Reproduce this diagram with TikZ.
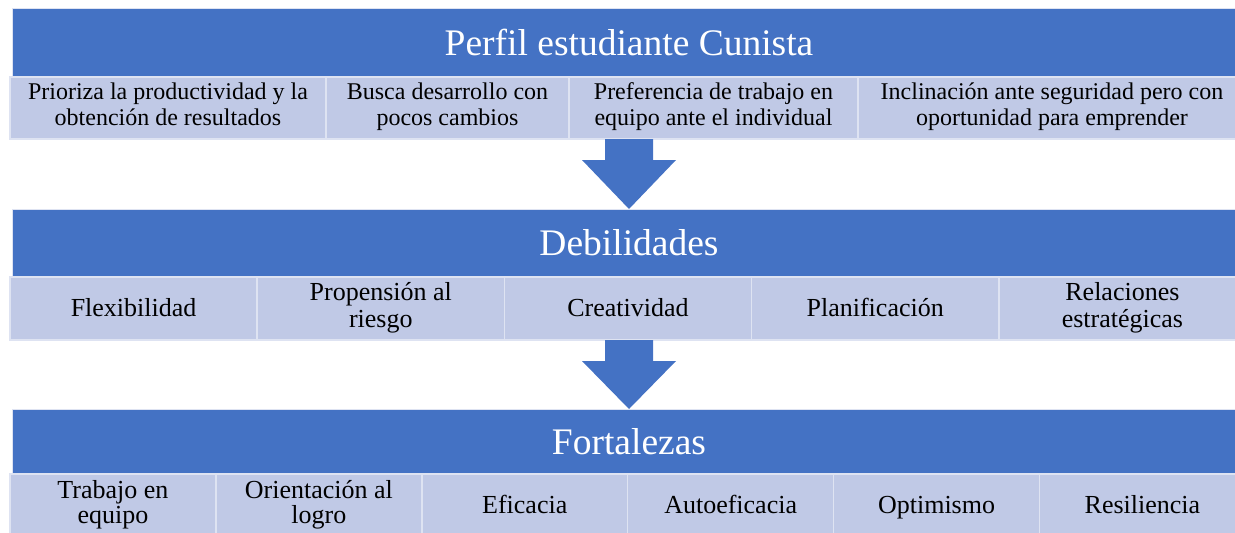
\documentclass[tikz,border=0pt]{standalone}
\usepackage{fontspec}
\setmainfont{Liberation Serif}
\usetikzlibrary{positioning,calc}

\definecolor{azul}{HTML}{4472C4}
\definecolor{celeste}{RGB}{192,201,230}
\definecolor{borde}{RGB}{222,227,242}

% puntal para centrar igual las celdas de una y dos lineas
\newcommand{\puntal}{\rule[-7pt]{0pt}{30pt}}
% flecha gruesa hacia abajo: #1 = base del tallo, #2 = punta
\newcommand{\flechaabajo}[2]{%
  \fill[azul] ($(#1)+(-24,0)$) -- ($(#1)+(24,0)$) -- ($(#1)+(24,21)$)
    -- ($(#1)+(47,21)$) -- (#2) -- ($(#1)+(-47,21)$) -- ($(#1)+(-24,21)$) -- cycle;}

\begin{document}
\begin{tikzpicture}[x=1pt,y=-1pt,
    titulo/.style={fill=azul, draw=borde, line width=0.6pt, text=white,
      font=\fontsize{37.5}{40}\selectfont, minimum width=1234pt,
      inner sep=0pt, outer sep=0pt, anchor=north west},
    celda/.style={fill=celeste, draw=borde, line width=1.5pt, align=center,
      inner sep=0pt, outer sep=0pt,
      execute at begin node=\puntal, execute at end node=\puntal},
    fila1/.style={celda, minimum height=62pt, font=\fontsize{24}{26}\selectfont},
    fila2/.style={celda, minimum height=63pt, minimum width=247.2pt, font=\fontsize{26}{26.5}\selectfont},
    fila3/.style={celda, minimum height=63pt, minimum width=205.9pt, font=\fontsize{26}{25.5}\selectfont}]
  \useasboundingbox (0,0) rectangle (1235,533);
  \clip (0,0) rectangle (1235,533);

  % perfil
  \node[titulo, minimum height=69pt] (perfil) at (12,8) {Perfil estudiante Cunista};
  \node[fila1, minimum width=316pt, anchor=north west] (p1) at (10,77)
    {Prioriza la productividad y la\\obtención de resultados};
  \node[fila1, minimum width=243pt, right=0pt of p1] (p2) {Busca desarrollo con\\pocos cambios};
  \node[fila1, minimum width=289pt, right=0pt of p2] (p3) {Preferencia de trabajo en\\equipo ante el individual};
  \node[fila1, minimum width=388pt, right=0pt of p3] (p4) {Inclinación ante seguridad pero con\\oportunidad para emprender};

  % debilidades
  \node[titulo, minimum height=68pt] (debil) at (12,209) {Debilidades};
  \node[fila2, anchor=north west] (d1) at (10,277) {Flexibilidad};
  \node[fila2, right=0pt of d1] (d2) {Propensión al\\riesgo};
  \node[fila2, right=0pt of d2] (d3) {Creatividad};
  \node[fila2, right=0pt of d3] (d4) {Planificación};
  \node[fila2, right=0pt of d4] (d5) {Relaciones\\estratégicas};

  % fortalezas
  \node[titulo, minimum height=65pt] (fort) at (12,409) {Fortalezas};
  \node[fila3, anchor=north west] (f1) at (10,474) {Trabajo en\\equipo};
  \node[fila3, right=0pt of f1] (f2) {Orientación al\\logro};
  \node[fila3, right=0pt of f2] (f3) {Eficacia};
  \node[fila3, right=0pt of f3] (f4) {Autoeficacia};
  \node[fila3, right=0pt of f4] (f5) {Optimismo};
  \node[fila3, right=0pt of f5] (f6) {Resiliencia};

  \coordinate (b1) at (perfil.south |- p1.south);
  \coordinate (b2) at (debil.south |- d1.south);
  \flechaabajo{b1}{debil.north}
  \flechaabajo{b2}{fort.north}
\end{tikzpicture}
\end{document}
